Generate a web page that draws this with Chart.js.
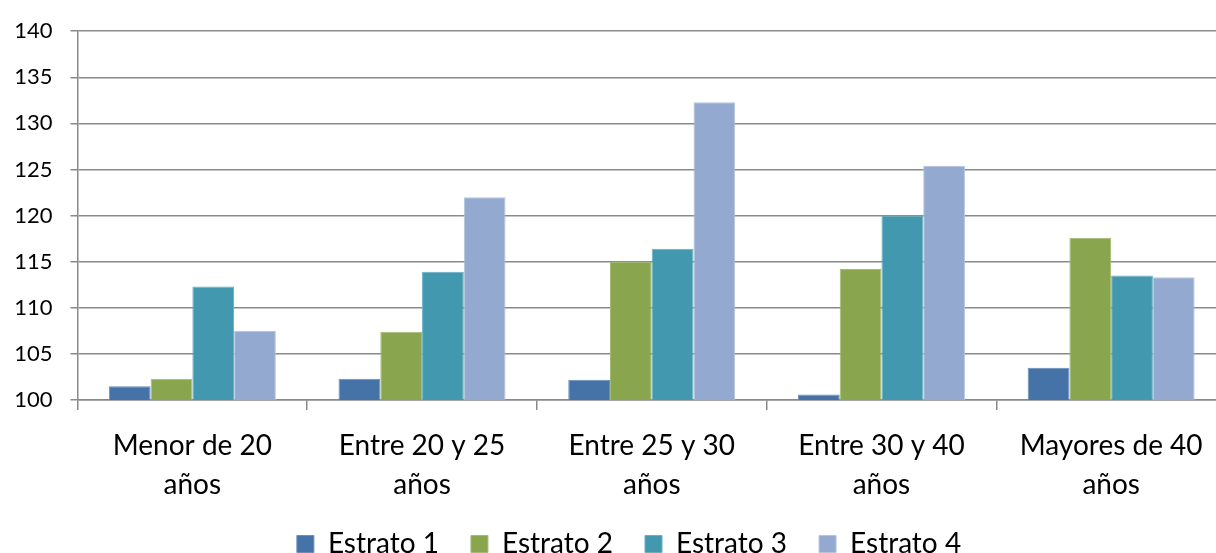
<!DOCTYPE html>
<html>
<head>
<meta charset="utf-8">
<script src="https://cdn.jsdelivr.net/npm/chart.js@4"></script>
<style>
html, body { margin: 0; padding: 0; overflow: hidden; background: #fff; }
#wrap { position: absolute; left: 0; top: 0; width: 1226px; height: 568px; }
</style>
</head>
<body>
<div id="wrap"><canvas id="c"></canvas></div>
<script>
const categories = [["Menor de 20", "años"], ["Entre 20 y 25", "años"], ["Entre 25 y 30", "años"], ["Entre 30 y 40", "años"], ["Mayores de 40", "años"]];
const seriesNames = ["Estrato 1", "Estrato 2", "Estrato 3", "Estrato 4"];
const estrato1 = [101.5, 102.3, 102.2, 100.6, 103.5];
const estrato2 = [102.3, 107.4, 115.0, 114.2, 117.6];
const estrato3 = [112.3, 113.9, 116.4, 120.0, 113.5];
const estrato4 = [107.5, 122.0, 132.3, 125.4, 113.3];
const colors = ["#4572A7", "#89A54E", "#4198AF", "#93A9CF"];
const borders = ["#6a8dbb", "#a3bb74", "#68afc2", "#b3c4e0"];
const yMin = 100, yMax = 140, yStep = 5;

const values = [estrato1, estrato2, estrato3, estrato4];
const FONT = "Lato, 'Open Sans', sans-serif";

const legendShift = {
  id: 'legendShift',
  afterLayout(chart) {
    const lg = chart.legend;
    if (lg) { lg.left += 16; lg.right += 16; }
  }
};

new Chart(document.getElementById('c'), {
  type: 'bar',
  data: {
    labels: categories,
    datasets: values.map((v, i) => ({
      label: seriesNames[i],
      data: v,
      backgroundColor: colors[i],
      borderColor: borders[i],
      borderWidth: 1,
      barPercentage: 1.0,
      categoryPercentage: 0.727
    }))
  },
  plugins: [legendShift],
  options: {
    responsive: true,
    maintainAspectRatio: false,
    animation: false,
    devicePixelRatio: 1,
    layout: { padding: { top: 23, left: 0, right: 0, bottom: 0 } },
    plugins: {
      tooltip: { enabled: false },
      legend: {
        position: 'bottom',
        labels: {
          boxWidth: 17,
          boxHeight: 17,
          padding: 32,
          color: '#000',
          font: { family: FONT, size: 28 }
        }
      }
    },
    scales: {
      x: {
        offset: true,
        grid: { display: true, drawOnChartArea: false, drawTicks: true, tickLength: 10, color: '#8a8a8a', offset: true, lineWidth: 1.5 },
        border: { display: true, color: '#8a8a8a', width: 1.5 },
        ticks: { color: '#000', padding: 16, maxRotation: 0, autoSkip: false, font: { family: FONT, size: 28, lineHeight: '39px' } },
        afterFit: s => { s.height = 98; }
      },
      y: {
        min: yMin,
        max: yMax,
        ticks: { stepSize: yStep, color: '#000', padding: 18, font: { family: FONT, size: 22 } },
        grid: { color: '#8a8a8a', lineWidth: 1.5, tickLength: 7, drawTicks: true },
        border: { display: true, color: '#8a8a8a', width: 1.5 },
        afterFit: s => { s.width = 77.5; }
      }
    }
  }
});
</script>
</body>
</html>
